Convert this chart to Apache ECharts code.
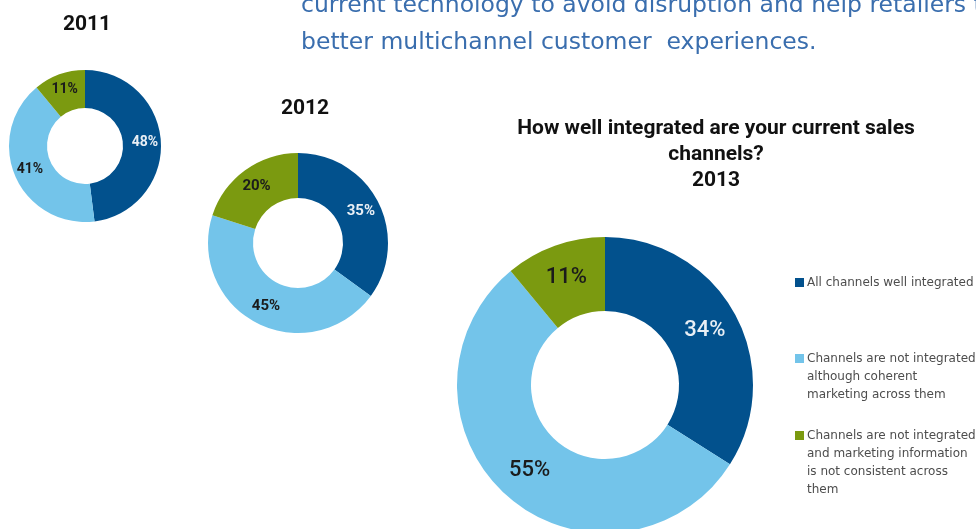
<!DOCTYPE html>
<html>
<head>
<meta charset="utf-8">
<script src="https://cdn.jsdelivr.net/npm/echarts@6/dist/echarts.min.js"></script>
<style>
html,body{margin:0;padding:0;background:#fff;}
#main{width:976px;height:529px;}
</style>
</head>
<body>
<div id="main"></div>
<script>
// ---- data ----
const categories = [
  'All channels well integrated',
  'Channels are not integrated although coherent marketing across them',
  'Channels are not integrated and marketing information is not consistent across them'
];
const legendLines = [
  ['All channels well integrated'],
  ['Channels are not integrated', 'although coherent', 'marketing across them'],
  ['Channels are not integrated', 'and marketing information', 'is not consistent across', 'them']
];
const values2011 = [48, 41, 11];
const values2012 = [35, 45, 20];
const values2013 = [34, 55, 11];
const yearLabels = ['2011', '2012', '2013'];
const mainTitle = 'How well integrated are your current sales\nchannels?';
const introText = 'current technology to avoid disruption and help retailers to\nbetter multichannel customer  experiences.';

// ---- styles ----
const colors = ['#02518d', '#73c4ea', '#7b9a10'];
const labelColors = ['#e9eff5', '#1b1b1b', '#1b1b1b'];
const FONT = 'Roboto, "Noto Sans", sans-serif';
const LIGHT_FONT = '"DejaVu Sans", "Noto Sans", sans-serif';

function pieSeries(name, values, center, radius, fontSize, weight) {
  return {
    type: 'pie',
    name: name,
    center: center,
    radius: radius,
    startAngle: 90,
    clockwise: true,
    avoidLabelOverlap: false,
    animation: false,
    silent: true,
    label: {
      show: true,
      position: 'inside',
      formatter: '{c}%',
      fontFamily: FONT,
      fontSize: fontSize,
      fontWeight: weight
    },
    labelLine: { show: false },
    data: values.map((v, i) => ({
      name: categories[i],
      value: v,
      itemStyle: { color: colors[i] },
      label: { color: labelColors[i] }
    }))
  };
}

const L = 18;
const LEG_LEFT = 795;
const ICON = 9;
const TEXT_LEFT = LEG_LEFT + ICON + 3;
const iconCenters = [282.5, 358.5, 435.5];
const legendTextStyle = { fontFamily: LIGHT_FONT, fontSize: 12, lineHeight: L, color: '#4d4d4d', fontWeight: 'normal' };

const legends = legendLines.map((lines, i) => ({
  orient: 'vertical',
  left: LEG_LEFT,
  top: iconCenters[i] - L / 2,
  padding: 0,
  itemWidth: ICON,
  itemHeight: ICON,
  itemGap: 0,
  icon: 'rect',
  selectedMode: false,
  data: [categories[i]],
  formatter: () => lines[0],
  textStyle: Object.assign({ padding: [0, 0, 0, -2] }, legendTextStyle)
}));

// continuation lines of the legend entries
const legendRest = legendLines
  .map((lines, i) => ({ lines: lines.slice(1), i }))
  .filter(o => o.lines.length)
  .map(o => ({
    text: o.lines.join('\n'),
    left: TEXT_LEFT,
    top: iconCenters[o.i] - L / 2 + L,
    padding: 0,
    textStyle: legendTextStyle
  }));

const chart = echarts.init(document.getElementById('main'), null, { renderer: 'canvas' });
chart.setOption({
  backgroundColor: '#ffffff',
  animation: false,
  title: [
    {
      text: introText, left: 301, top: -12.5, padding: 0,
      textStyle: { fontFamily: LIGHT_FONT, fontSize: 23.5, fontWeight: 'normal', color: '#3a6eae', lineHeight: 37 }
    },
    {
      text: yearLabels[0], left: 87, top: 14, padding: 0, textAlign: 'center',
      textStyle: { fontFamily: FONT, fontSize: 21, fontWeight: 'bold', color: '#111', lineHeight: 21 }
    },
    {
      text: yearLabels[1], left: 305, top: 98, padding: 0, textAlign: 'center',
      textStyle: { fontFamily: FONT, fontSize: 21, fontWeight: 'bold', color: '#111', lineHeight: 21 }
    },
    {
      text: mainTitle + '\n' + yearLabels[2], left: 716, top: 116, padding: 0, textAlign: 'center',
      textStyle: { fontFamily: FONT, fontSize: 21, fontWeight: 'bold', color: '#111', lineHeight: 26 }
    }
  ].concat(legendRest),
  legend: legends,
  series: [
    pieSeries('2011', values2011, [85, 146], [38, 76], 14, 'bold'),
    pieSeries('2012', values2012, [298, 243], [45, 90], 15, 'bold'),
    pieSeries('2013', values2013, [605, 385], [74, 148], 22, 500)
  ]
});
</script>
</body>
</html>
